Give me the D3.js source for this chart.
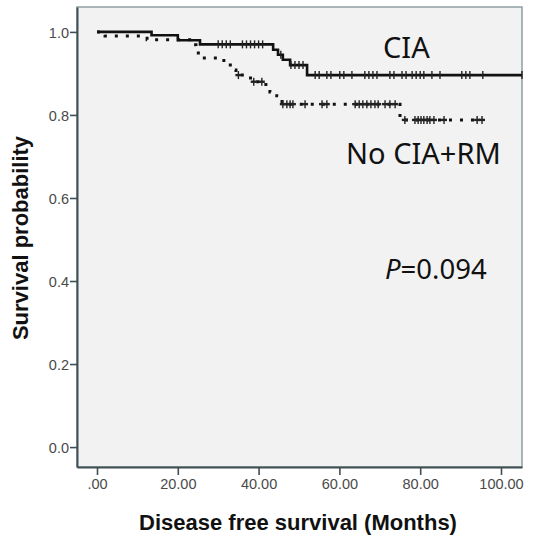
<!DOCTYPE html>
<html>
<head>
<meta charset="utf-8">
<script src="https://cdn.jsdelivr.net/npm/d3@7"></script>
<style>
  body { margin: 0; background: #fff; }
  svg { display: block; }
</style>
</head>
<body>
<svg id="chart" width="543" height="538"></svg>
<script>
// Kaplan-Meier steps (months, survival)
const ciaTimes = [0, 13.5, 20, 25.5, 43.6, 44.8, 46, 47.8, 52];
const ciaSurv = [1, 0.992, 0.980, 0.970, 0.957, 0.945, 0.933, 0.920, 0.896];
const ciaEnd = 105.2;
const ciaCensor = [30, 31, 32, 33, 36, 37, 38, 39, 40, 41, 45.5, 48, 49, 50, 51,
    54, 55, 56.9, 57.9, 60.1, 61.1, 63.1, 66.3, 67.3, 68.3, 69.3, 72.5, 73.5,
    75.5, 76.5, 78, 79, 80, 80.9, 82.9, 84.9, 90.3, 91.3, 92.3, 95.5, 105.2];

const rmTimes = [0, 2, 12.4, 23.8, 24.5, 25.5, 31.4, 33, 34.4, 38, 41.8, 42.8, 44.5, 45.8, 75];
const rmSurv = [1, 0.990, 0.981, 0.969, 0.949, 0.937, 0.920, 0.908, 0.896, 0.880, 0.867, 0.855, 0.846, 0.826, 0.788];
const rmEnd = 95.3;
const rmCensor = [35, 38.8, 40.8, 46, 47, 47.8, 48.5, 51.5, 55.7, 56.9, 63.9, 64.9,
    65.8, 66.8, 67.8, 68.8, 69.6, 71.3, 72.5, 73.8, 76.2, 78.7, 79.5, 80.2,
    80.9, 81.7, 82.4, 83.4, 85.9, 94.1, 95.3];

const xTicks = [0, 20, 40, 60, 80, 100];
const yTicks = [0, 0.2, 0.4, 0.6, 0.8, 1.0];

const box = {left: 77, right: 522, top: 7, bottom: 467};

const svg = d3.select("#chart");

const x = d3.scaleLinear().domain([-4.95, 105.2]).range([box.left, box.right]);
const y = d3.scaleLinear().domain([-0.048, 1.060]).range([box.bottom, box.top]);

// plot background and frame
svg.append("rect")
    .attr("x", box.left)
    .attr("y", box.top)
    .attr("width", box.right - box.left)
    .attr("height", box.bottom - box.top)
    .attr("fill", "#f1f2f1")
    .attr("stroke", "#8f9ea3")
    .attr("stroke-width", 1.5);

// axes
const axisColor = "#3f4f55";
const yAxis = svg.append("g")
    .attr("transform", `translate(${box.left},0)`)
    .call(d3.axisLeft(y).tickValues(yTicks).tickFormat(d3.format(".1f")).tickSize(7).tickSizeOuter(0));
const xAxis = svg.append("g")
    .attr("transform", `translate(0,${box.bottom})`)
    .call(d3.axisBottom(x).tickValues(xTicks)
        .tickFormat(d => d === 0 ? ".00" : d.toFixed(2)).tickSize(8).tickSizeOuter(0));

[xAxis, yAxis].forEach(a => {
    a.select(".domain").attr("stroke", axisColor).attr("stroke-width", 2);
    a.selectAll(".tick line").attr("stroke", axisColor).attr("stroke-width", 1.6);
    a.selectAll(".tick text")
        .attr("fill", "#4a4a4a")
        .attr("font-family", "Liberation Sans, Arial, sans-serif")
        .attr("font-size", 14.5);
});
yAxis.selectAll(".tick text").attr("x", -8).attr("dy", "0.36em");
xAxis.selectAll(".tick text").attr("y", 12);

// axis titles
svg.append("text")
    .attr("x", 298)
    .attr("y", 530)
    .attr("text-anchor", "middle")
    .attr("font-family", "Liberation Sans, Arial, sans-serif")
    .attr("font-weight", "bold")
    .attr("font-size", 22)
    .attr("fill", "#111")
    .text("Disease free survival (Months)");

svg.append("text")
    .attr("transform", "translate(28,238) rotate(-90)")
    .attr("text-anchor", "middle")
    .attr("font-family", "Liberation Sans, Arial, sans-serif")
    .attr("font-weight", "bold")
    .attr("font-size", 22)
    .attr("fill", "#111")
    .text("Survival probability");

// curves
function stepPoints(times, surv, end) {
    const pts = times.map((t, i) => [t, surv[i]]);
    pts.push([end, surv[surv.length - 1]]);
    return pts;
}
function survAt(times, surv, t) {
    let s = surv[0];
    times.forEach((tt, i) => { if (tt <= t) s = surv[i]; });
    return s;
}

const line = d3.line()
    .x(d => x(d[0]))
    .y(d => y(d[1]))
    .curve(d3.curveStepAfter);

svg.append("path")
    .datum(stepPoints(rmTimes, rmSurv, rmEnd))
    .attr("d", line)
    .attr("fill", "none")
    .attr("stroke", "#111")
    .attr("stroke-width", 3)
    .attr("stroke-dasharray", "3,8");

svg.append("path")
    .datum(stepPoints(ciaTimes, ciaSurv, ciaEnd))
    .attr("d", line)
    .attr("fill", "none")
    .attr("stroke", "#111")
    .attr("stroke-width", 2.6);

// censor marks
const ciaMarks = svg.append("g").attr("stroke", "#222").attr("stroke-width", 1.4)
    .selectAll("line")
    .data(ciaCensor)
    .join("line")
    .attr("x1", d => x(d)).attr("x2", d => x(d))
    .attr("y1", d => y(survAt(ciaTimes, ciaSurv, d)) - 4)
    .attr("y2", d => y(survAt(ciaTimes, ciaSurv, d)) + 4);

const rmMarks = svg.append("g").attr("stroke", "#222").attr("stroke-width", 1.4)
    .selectAll("g")
    .data(rmCensor)
    .join("g")
    .attr("transform", d => `translate(${x(d)},${y(survAt(rmTimes, rmSurv, d))})`);
rmMarks.append("line").attr("x1", 0).attr("x2", 0).attr("y1", -4).attr("y2", 4);
rmMarks.append("line").attr("x1", -3).attr("x2", 3).attr("y1", 0).attr("y2", 0).attr("stroke-width", 2.4);

// labels
const labelFont = "Noto Sans, Open Sans, sans-serif";
svg.append("text")
    .attr("x", 383).attr("y", 58)
    .attr("font-family", labelFont).attr("font-size", 29).attr("fill", "#111")
    .text("CIA");
svg.append("text")
    .attr("x", 346).attr("y", 164)
    .attr("font-family", labelFont).attr("font-size", 29).attr("fill", "#111")
    .text("No CIA+RM");
const pText = svg.append("text")
    .attr("x", 385).attr("y", 279)
    .attr("font-family", labelFont).attr("font-size", 27.5).attr("fill", "#111");
pText.append("tspan").attr("font-style", "italic").text("P");
pText.append("tspan").text("=0.094");
</script>
</body>
</html>
